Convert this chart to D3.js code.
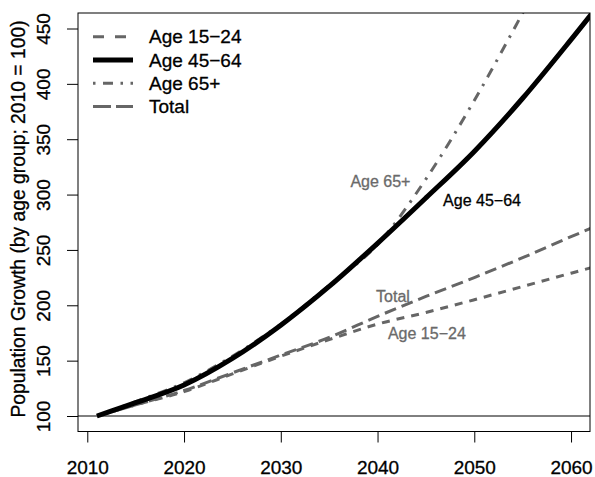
<!DOCTYPE html>
<html>
<head>
<meta charset="utf-8">
<script src="https://cdn.jsdelivr.net/npm/d3@7"></script>
<style>
  body { margin: 0; background: #fff; }
  svg { display: block; font-family: "Liberation Sans", Arial, sans-serif; }
  text { stroke-width: 0.3px; }
</style>
</head>
<body>
<svg id="chart" width="595" height="477"></svg>
<script>
// projected population index, 2010 = 100
const years = [2011, 2015, 2020, 2025, 2030, 2035, 2040, 2045, 2050, 2055, 2060, 2065];
const age1524 = [100, 110, 122, 138, 154, 169, 183, 193.5, 205, 217, 229, 241];
const age4564 = [100, 112, 128, 152, 182, 217, 256, 297, 339, 387, 440, 495];
const age65 = [100, 113, 130, 154, 183, 218, 255, 314, 385, 464, 546, 630];
const total = [100, 110, 123, 139, 155, 171, 190, 208, 225, 243, 262, 280];

const xTicks = [2010, 2020, 2030, 2040, 2050, 2060];
const yTicks = [100, 150, 200, 250, 300, 350, 400, 450];
const xLim = [2011, 2060];
const yLim = [100, 450];

const seriesNames = ['Age 15\u221224', 'Age 45\u221264', 'Age 65+', 'Total'];
const seriesValues = [age1524, age4564, age65, total];

// in-plot labels, data coordinates
const labelNames = ['Age 65+', 'Age 45\u221264', 'Total', 'Age 15\u221224'];
const labelYears = [2040.3, 2050.8, 2041.6, 2045.1];
const labelValues = [312, 295, 207.6, 174.6];

const styles = [
    { color: '#666', width: 3, dash: '8,7', legendDash: '11,11' },
    { color: '#000', width: 5, dash: null, legendDash: null },
    { color: '#666', width: 3, dash: '2.5,7.5,10,7.5', legendDash: '2.5,7.5,10,7.5' },
    { color: '#666', width: 3, dash: '12,6', legendDash: '18,5' }
];
const labelColors = ['#6a6a6a', '#000', '#6a6a6a', '#6a6a6a'];

const box = { left: 78, right: 590, top: 13, bottom: 431.5 };
const svg = d3.select('#chart');

// R-style 4% padding on both axes
const xPad = (xLim[1] - xLim[0]) * 0.04;
const yPad = (yLim[1] - yLim[0]) * 0.04;
const x = d3.scaleLinear().domain([xLim[0] - xPad, xLim[1] + xPad]).range([box.left, box.right]);
const y = d3.scaleLinear().domain([yLim[0] - yPad, yLim[1] + yPad]).range([box.bottom, box.top]);

svg.append('clipPath').attr('id', 'plotClip')
    .append('rect')
    .attr('x', box.left).attr('y', box.top)
    .attr('width', box.right - box.left).attr('height', box.bottom - box.top);

// reference line at 100
svg.append('line')
    .attr('x1', box.left).attr('x2', box.right)
    .attr('y1', y(100)).attr('y2', y(100))
    .attr('stroke', '#000').attr('stroke-width', 1);

const line = d3.line()
    .x((d, i) => x(years[i]))
    .y(d => y(d))
    .curve(d3.curveMonotoneX);

const lines = svg.append('g').attr('clip-path', 'url(#plotClip)');
// draw grey ones first so the black line sits on top
[0, 3, 2, 1].forEach(i => {
    lines.append('path')
        .attr('d', line(seriesValues[i]))
        .attr('fill', 'none')
        .attr('stroke', styles[i].color)
        .attr('stroke-width', styles[i].width)
        .attr('stroke-dasharray', styles[i].dash)
        .attr('stroke-linejoin', 'round');
});

// box
svg.append('rect')
    .attr('x', box.left).attr('y', box.top)
    .attr('width', box.right - box.left).attr('height', box.bottom - box.top)
    .attr('fill', 'none').attr('stroke', '#000').attr('stroke-width', 1);

// x axis
const xAxis = svg.append('g')
    .attr('transform', `translate(0,${box.bottom})`)
    .call(d3.axisBottom(x).tickValues(xTicks).tickFormat(d3.format('d')).tickSize(11).tickPadding(18));
xAxis.select('.domain').remove();
xAxis.selectAll('line').attr('stroke', '#000');
xAxis.selectAll('text')
    .attr('font-size', 19)
    .attr('font-family', '"Liberation Sans", Arial, sans-serif')
    .attr('fill', '#000').attr('stroke', '#000');

// y axis, labels rotated like R's default las=0
const yAxis = svg.append('g')
    .attr('transform', `translate(${box.left},0)`)
    .call(d3.axisLeft(y).tickValues(yTicks).tickSize(11));
yAxis.select('.domain').remove();
yAxis.selectAll('line').attr('stroke', '#000');
yAxis.selectAll('text')
    .attr('x', 0).attr('y', 0).attr('dy', 0)
    .attr('transform', `translate(-28,0) rotate(-90)`)
    .attr('text-anchor', 'middle')
    .attr('font-size', 19)
    .attr('font-family', '"Liberation Sans", Arial, sans-serif')
    .attr('fill', '#000').attr('stroke', '#000');

svg.append('text')
    .attr('transform', 'translate(25,219) rotate(-90)')
    .attr('text-anchor', 'middle')
    .attr('font-size', 19.3)
    .attr('stroke', '#000')
    .text('Population Growth (by age group; 2010 = 100)');

// in-plot labels
labelNames.forEach((name, i) => {
    svg.append('text')
        .attr('x', x(labelYears[i]))
        .attr('y', y(labelValues[i]))
        .attr('dy', '0.35em')
        .attr('text-anchor', 'middle')
        .attr('font-size', 16)
        .attr('fill', labelColors[i])
        .attr('stroke', labelColors[i])
        .text(name);
});

// legend, no frame
const legend = svg.append('g').attr('transform', 'translate(93,36.7)');
seriesNames.forEach((name, i) => {
    const row = legend.append('g').attr('transform', `translate(0,${i * 23.3})`);
    row.append('line')
        .attr('x1', 0).attr('x2', 40)
        .attr('stroke', styles[i].color)
        .attr('stroke-width', styles[i].width)
        .attr('stroke-dasharray', styles[i].legendDash);
    row.append('text')
        .attr('x', 56)
        .attr('dy', '0.35em')
        .attr('font-size', 19)
        .attr('stroke', '#000')
        .text(name);
});
</script>
</body>
</html>
